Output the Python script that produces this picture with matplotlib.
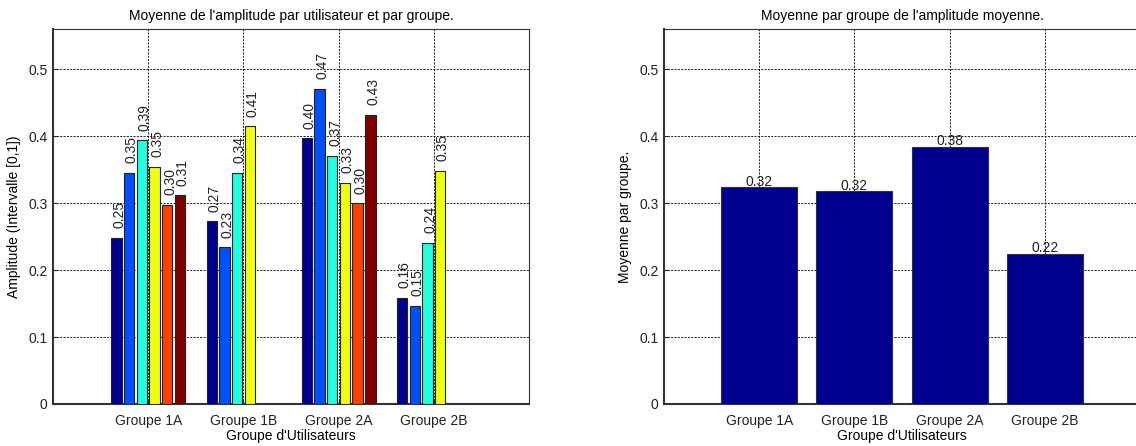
import numpy as np
import matplotlib
matplotlib.use('Agg')
import matplotlib.pyplot as plt

plt.rcParams['font.family'] = ['Liberation Sans', 'DejaVu Sans']

# ---- données ----
groupes = ['Groupe 1A', 'Groupe 1B', 'Groupe 2A', 'Groupe 2B']
# amplitude moyenne par utilisateur (nan = pas d'utilisateur)
utilisateur_1 = [0.248, 0.273, 0.397, 0.159]
utilisateur_2 = [0.346, 0.234, 0.471, 0.147]
utilisateur_3 = [0.394, 0.345, 0.371, 0.241]
utilisateur_4 = [0.354, 0.415, 0.331, 0.349]
utilisateur_5 = [0.298, np.nan, 0.300, np.nan]
utilisateur_6 = [0.312, np.nan, 0.432, np.nan]
moyenne_groupe = [0.324, 0.318, 0.384, 0.224]

series = [utilisateur_1, utilisateur_2, utilisateur_3,
          utilisateur_4, utilisateur_5, utilisateur_6]
couleurs = ['#00008F', '#0050FF', '#20FFDF', '#EFFF10', '#FF4000', '#800000']

FS = 10

fig = plt.figure(figsize=(11.36, 4.46), dpi=100, facecolor='white')
ax1 = fig.add_axes([0.0467, 0.0942, 0.419, 0.840])
ax2 = fig.add_axes([0.5845, 0.0942, 0.419, 0.840])


def style_axes(ax):
    ax.set_xlim(0, 5)
    ax.set_ylim(0, 0.56)
    ax.set_xticks(np.arange(1, 5))
    ax.set_xticklabels(groupes)
    ax.set_yticks([0, 0.1, 0.2, 0.3, 0.4, 0.5])
    ax.set_yticklabels(['0', '0.1', '0.2', '0.3', '0.4', '0.5'])
    ax.tick_params(direction='in', length=3, labelsize=FS, colors='#222222', pad=4)
    ax.tick_params(axis='x', pad=7)
    ax.grid(True, color='black', linestyle=(0, (2.5, 1.5)), linewidth=0.6)
    ax.set_axisbelow(True)
    for side in ['top', 'right']:
        ax.spines[side].set_linewidth(0.8)
        ax.spines[side].set_color('#333333')
    for side in ['left', 'bottom']:
        ax.spines[side].set_linewidth(1.5)
        ax.spines[side].set_color('#333333')
    ax.set_xlabel("Groupe d'Utilisateurs", fontsize=FS, labelpad=1)


# ---- gauche : barres groupées ----
x = np.arange(1, 5)
n = len(series)
largeur_groupe = 0.8
pas = largeur_groupe / n
for i, (vals, c) in enumerate(zip(series, couleurs)):
    pos = x - largeur_groupe / 2 + pas * (i + 0.5)
    ax1.bar(pos, vals, width=pas * 0.82, color=c, edgecolor='#222222',
            linewidth=0.8, zorder=3)
    for xp, v in zip(pos, vals):
        if np.isnan(v):
            continue
        ax1.annotate('%.2f' % v, (xp, v), xytext=(2, 7), textcoords='offset points',
                     rotation=90, ha='center', va='bottom', fontsize=FS,
                     color='#222222', zorder=4)

style_axes(ax1)
ax1.set_ylabel('Amplitude (Intervalle [0,1])', fontsize=FS, labelpad=5)
ax1.set_title("Moyenne de l'amplitude par utilisateur et par groupe.", fontsize=FS, pad=7)

# ---- droite : moyenne par groupe ----
ax2.bar(x, moyenne_groupe, width=0.8, color='#00008F', edgecolor='#333333',
        linewidth=0.8, zorder=3)
for xp, v in zip(x, moyenne_groupe):
    ax2.text(xp, v - 0.002, '%.2f' % v, ha='center', va='bottom', fontsize=FS,
             color='#222222', zorder=4)

style_axes(ax2)
ax2.set_ylabel('Moyenne par groupe.', fontsize=FS, labelpad=5)
ax2.set_title("Moyenne par groupe de l'amplitude moyenne.", fontsize=FS, pad=7)

fig.savefig('out.png', dpi=100)
